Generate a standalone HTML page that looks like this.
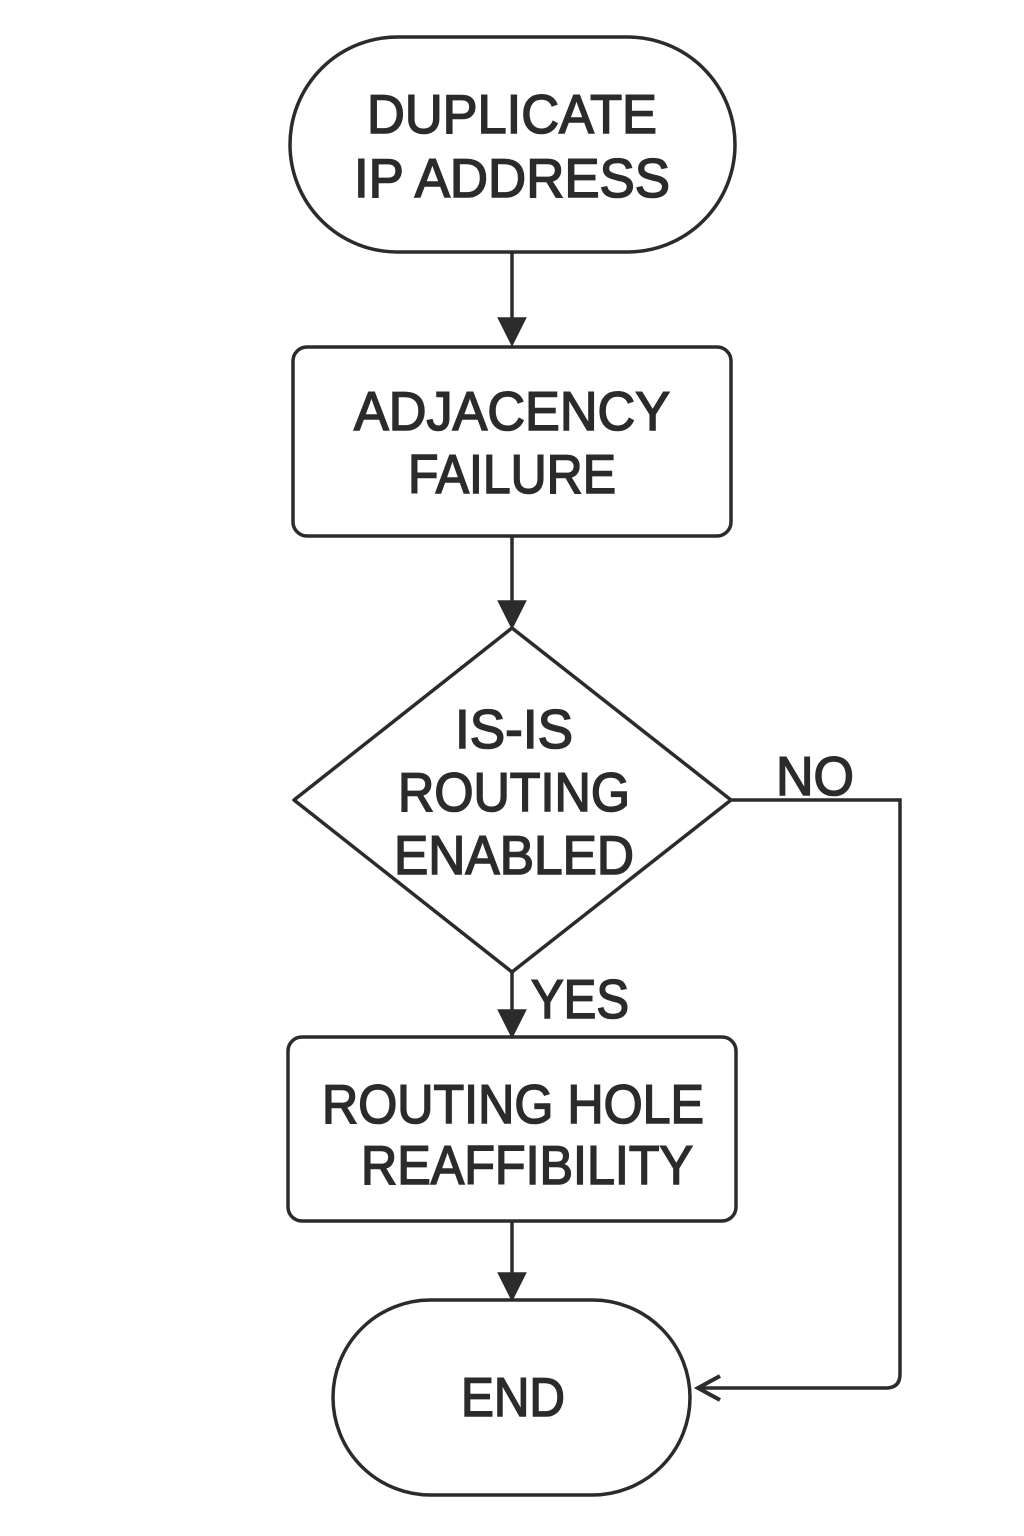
<!DOCTYPE html>
<html><head><meta charset="utf-8"><style>
html,body{margin:0;padding:0;background:#fff}
svg{display:block}
text{font-family:"Liberation Sans",sans-serif;font-size:55px;fill:#2b2b2b;stroke:#2b2b2b;stroke-width:1.6px;text-anchor:middle}
</style></head><body>
<svg width="1024" height="1536" viewBox="0 0 1024 1536" xmlns="http://www.w3.org/2000/svg">
<g fill="none" stroke="#2b2b2b" stroke-width="3.5">
<rect x="290" y="37" width="445" height="215" rx="107.5"/>
<rect x="293" y="347" width="438" height="189" rx="14"/>
<polygon points="512,628 731,800 512,972 294,800" stroke-linejoin="round"/>
<rect x="288" y="1037" width="448" height="184" rx="14"/>
<rect x="333" y="1300" width="357" height="195" rx="97.5"/>
<line x1="512" y1="252" x2="512" y2="343"/>
<line x1="512" y1="536" x2="512" y2="625"/>
<line x1="512" y1="972" x2="512" y2="1033"/>
<line x1="512" y1="1221" x2="512" y2="1296"/>
<path d="M731,800 H900 V1374 Q900,1388 886,1388 H700"/>
<path d="M500,319 L512,343 L524,319 Z" fill="#2b2b2b"/>
<path d="M500,602 L512,626 L524,602 Z" fill="#2b2b2b"/>
<path d="M500,1011 L512,1035 L524,1011 Z" fill="#2b2b2b"/>
<path d="M500,1274 L512,1298 L524,1274 Z" fill="#2b2b2b"/>
<path d="M720,1376 L698,1388 L720,1400" stroke-width="4"/>
</g>
<text x="512" y="133" textLength="290" lengthAdjust="spacingAndGlyphs">DUPLICATE</text>
<text x="512" y="197" textLength="316" lengthAdjust="spacingAndGlyphs">IP ADDRESS</text>
<text x="512" y="430" textLength="316" lengthAdjust="spacingAndGlyphs">ADJACENCY</text>
<text x="512" y="493" textLength="208" lengthAdjust="spacingAndGlyphs">FAILURE</text>
<text x="514" y="748" textLength="118" lengthAdjust="spacingAndGlyphs">IS-IS</text>
<text x="514" y="811" textLength="232" lengthAdjust="spacingAndGlyphs">ROUTING</text>
<text x="514" y="874" textLength="240" lengthAdjust="spacingAndGlyphs">ENABLED</text>
<text x="815" y="795" textLength="78" lengthAdjust="spacingAndGlyphs">NO</text>
<text x="580" y="1018" textLength="98" lengthAdjust="spacingAndGlyphs">YES</text>
<text x="513" y="1123" textLength="382" lengthAdjust="spacingAndGlyphs">ROUTING HOLE</text>
<text x="527" y="1184" textLength="332" lengthAdjust="spacingAndGlyphs">REAFFIBILITY</text>
<text x="513" y="1416" textLength="104" lengthAdjust="spacingAndGlyphs">END</text>
</svg>
</body></html>
